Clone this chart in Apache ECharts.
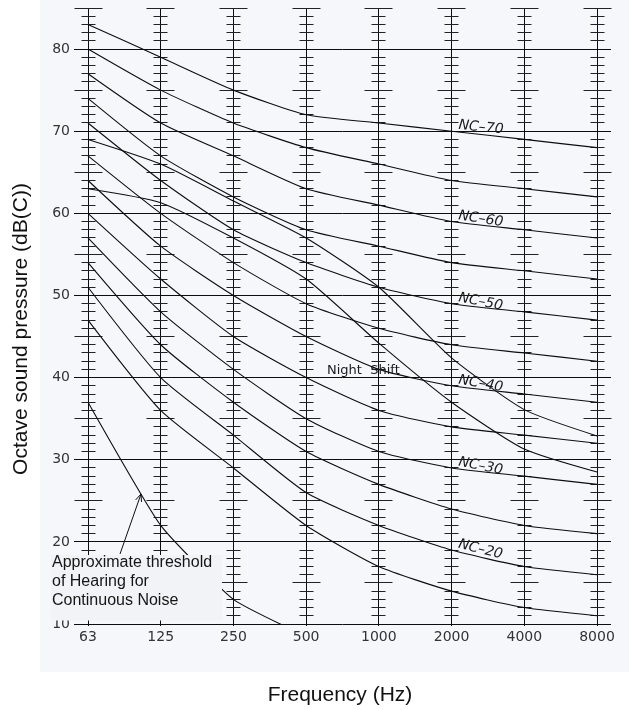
<!DOCTYPE html>
<html>
<head>
<meta charset="utf-8">
<script src="https://cdn.jsdelivr.net/npm/echarts@6/dist/echarts.min.js"></script>
<style>
  html, body { margin: 0; padding: 0; background: #ffffff; }
  #wrap { position: relative; width: 629px; height: 710px; }
  #panel { position: absolute; left: 40px; top: 0; width: 589px; height: 672px; background: #f5f7fb; }
  #chart { position: absolute; left: 0; top: 0; width: 629px; height: 710px; }
</style>
</head>
<body>
<div id="wrap"><div id="panel"></div><div id="chart"></div></div>
<script>
// Octave-band centre frequencies (Hz)
const frequencies = ['63', '125', '250', '500', '1000', '2000', '4000', '8000'];

// Noise Criterion curves, octave band sound pressure levels (dB)
const nc70 = [83, 79, 75, 72, 71, 70, 69, 68];
const nc65 = [80, 75, 71, 68, 66, 64, 63, 62];
const nc60 = [77, 71, 67, 63, 61, 59, 58, 57];
const nc55 = [74, 67, 62, 58, 56, 54, 53, 52];
const nc50 = [71, 64, 58, 54, 51, 49, 48, 47];
const nc45 = [67, 60, 54, 49, 46, 44, 43, 42];
const nc40 = [64, 56, 50, 45, 41, 39, 38, 37];
const nc35 = [60, 52, 45, 40, 36, 34, 33, 32];
const nc30 = [57, 48, 41, 35, 31, 29, 28, 27];
const nc25 = [54, 44, 37, 31, 27, 24, 22, 21];
const nc20 = [51, 40, 33, 26, 22, 19, 17, 16];
const nc15 = [47, 36, 29, 22, 17, 14, 12, 11];

// Night shift spectra
const nightShiftUpper = [69, 66, 61.5, 57, 51, 42.4, 36.1, 32.9];
const nightShiftLower = [63, 61.3, 57, 52, 44.2, 37, 31.3, 28.5];

// Approximate threshold of hearing for continuous noise
const hearingThreshold = [37, 22, 13, 8.5, null, null, null, null];

// Level scale
const levelTicks = [10, 20, 30, 40, 50, 60, 70, 80];
const levelMin = 10;
const levelMax = 85;

// Curve labels placed at 2000 Hz
const ncLabels = [
  { text: 'NC\u201370', curve: nc70, tilt: 6 },
  { text: 'NC\u201360', curve: nc60, tilt: 9 },
  { text: 'NC\u201350', curve: nc50, tilt: 11 },
  { text: 'NC\u201340', curve: nc40, tilt: 10 },
  { text: 'NC\u201330', curve: nc30, tilt: 11 },
  { text: 'NC\u201320', curve: nc20, tilt: 14 }
];

const ncCurves = [nc70, nc65, nc60, nc55, nc50, nc45, nc40, nc35, nc30, nc25, nc20, nc15];

const ink = '#0d0d0d';
const crisp = v => Math.round(v - 0.5) + 0.5;

const chart = echarts.init(document.getElementById('chart'), null, { renderer: 'canvas' });

const curveSeries = (data, extra) => Object.assign({
  type: 'line',
  data: data,
  smooth: 0.2,
  symbol: 'none',
  silent: true,
  z: 4,
  lineStyle: { color: ink, width: 1.1 },
  animation: false
}, extra || {});

const option = {
  backgroundColor: 'transparent',
  animation: false,
  grid: { left: 88, right: 32, top: 8, bottom: 86 },
  xAxis: {
    type: 'category',
    data: frequencies,
    boundaryGap: false,
    axisLine: { show: false },
    axisTick: { show: false },
    splitLine: { show: false },
    axisLabel: {
      margin: 6,
      fontFamily: 'DejaVu Sans',
      fontSize: 14,
      color: '#333'
    }
  },
  yAxis: {
    type: 'value',
    min: levelMin,
    max: levelMax,
    interval: 10,
    axisLine: { show: false },
    axisTick: { show: false },
    splitLine: { show: false },
    axisLabel: {
      margin: 18,
      showMaxLabel: false,
      fontFamily: 'DejaVu Sans',
      fontSize: 14,
      color: '#333',
      formatter: v => (levelTicks.indexOf(v) >= 0 ? String(v) : '')
    }
  },
  series: [
    // Vertical frequency rules with 1 dB / 5 dB graduations
    {
      type: 'custom',
      silent: true,
      z: 1,
      data: frequencies.map((f, i) => [i, levelMax]),
      encode: { x: 0, y: 1 },
      renderItem: function (params, api) {
        const i = api.value(0);
        const top = api.coord([i, levelMax]);
        const bottom = api.coord([i, levelMin]);
        const x = crisp(top[0]);
        const children = [{
          type: 'line',
          shape: { x1: x, y1: Math.round(top[1]), x2: x, y2: Math.round(bottom[1]) + 2 },
          style: { stroke: ink, lineWidth: 1 }
        }];
        for (let v = levelMin + 1; v <= levelMax; v++) {
          if (v % 10 === 0) continue;
          const y = crisp(api.coord([i, v])[1]);
          const half = v % 5 === 0 ? 14 : 7;
          children.push({
            type: 'line',
            shape: { x1: x - half, y1: y, x2: x + half, y2: y },
            style: { stroke: '#222', lineWidth: 1 }
          });
        }
        return { type: 'group', children: children };
      }
    },
    // Horizontal level lines every 10 dB
    {
      type: 'custom',
      silent: true,
      z: 1,
      data: levelTicks.map(v => [0, v]),
      encode: { x: 0, y: 1 },
      renderItem: function (params, api) {
        const v = api.value(1);
        const left = api.coord([0, v]);
        const right = api.coord([frequencies.length - 1, v]);
        const y = crisp(left[1]);
        return {
          type: 'line',
          shape: { x1: left[0] - 14, y1: y, x2: right[0] + 14, y2: y },
          style: { stroke: ink, lineWidth: 1 }
        };
      }
    }
  ]
    .concat(ncCurves.map(c => curveSeries(c)))
    .concat([
      curveSeries(nightShiftUpper),
      curveSeries(nightShiftLower),
      curveSeries(hearingThreshold, { smooth: 0.15 })
    ])
};

chart.setOption(option);

// Annotations positioned through the chart's own coordinate system
const toPx = (i, v) => chart.convertToPixel({ gridIndex: 0 }, [i, v]);
const graphics = [];

ncLabels.forEach(l => {
  const p = toPx(5, l.curve[5]);
  graphics.push({
    type: 'text',
    x: p[0] + 7,
    y: p[1] - 6,
    rotation: -l.tilt * Math.PI / 180,
    z: 50,
    silent: true,
    style: {
      text: l.text,
      x: 0, y: 0,
      align: 'left',
      verticalAlign: 'middle',
      font: 'italic 14px "DejaVu Sans"',
      fill: '#1a1a1a'
    }
  });
});

graphics.push({
  type: 'text',
  x: 327, y: 371, z: 50, silent: true,
  style: {
    text: 'Night  Shift',
    x: 0, y: 0,
    align: 'left', verticalAlign: 'middle',
    font: '13px "DejaVu Sans"', fill: '#1a1a1a'
  }
});

// Threshold note box and arrow
graphics.push({
  type: 'rect', z: 60, silent: true,
  shape: { x: 51, y: 555, width: 171, height: 65.5 },
  style: { fill: '#f2f3f6' }
});
graphics.push({
  type: 'text', z: 61, silent: true,
  x: 52, y: 553,
  style: {
    text: 'Approximate threshold\nof Hearing for\nContinuous Noise',
    x: 0, y: 0,
    align: 'left', verticalAlign: 'top',
    font: '16px "Liberation Sans"', lineHeight: 19, fill: '#151515'
  }
});

const tail = [120, 554];
const tip = [141, 494];
const dx = tip[0] - tail[0], dy = tip[1] - tail[1];
const len = Math.sqrt(dx * dx + dy * dy);
const ux = dx / len, uy = dy / len;
const head = (ang) => {
  const c = Math.cos(ang), s = Math.sin(ang);
  const bx = -ux, by = -uy;
  return [tip[0] + 8 * (bx * c - by * s), tip[1] + 8 * (bx * s + by * c)];
};
graphics.push({
  type: 'polyline', z: 62, silent: true,
  shape: { points: [tail, tip] },
  style: { stroke: ink, lineWidth: 1, fill: null }
});
graphics.push({
  type: 'polyline', z: 62, silent: true,
  shape: { points: [head(0.4), tip, head(-0.4)] },
  style: { stroke: ink, lineWidth: 1, fill: null }
});

// Axis titles
graphics.push({
  type: 'text', z: 50, silent: true,
  x: 21, y: 329, rotation: Math.PI / 2,
  style: {
    text: 'Octave sound pressure (dB(C))',
    x: 0, y: 0, align: 'center', verticalAlign: 'middle',
    font: '21px "Liberation Sans"', fill: '#111'
  }
});
graphics.push({
  type: 'text', z: 50, silent: true,
  x: 340, y: 695,
  style: {
    text: 'Frequency (Hz)',
    x: 0, y: 0, align: 'center', verticalAlign: 'middle',
    font: '21px "Liberation Sans"', fill: '#111'
  }
});

chart.setOption({ graphic: graphics });
</script>
</body>
</html>
